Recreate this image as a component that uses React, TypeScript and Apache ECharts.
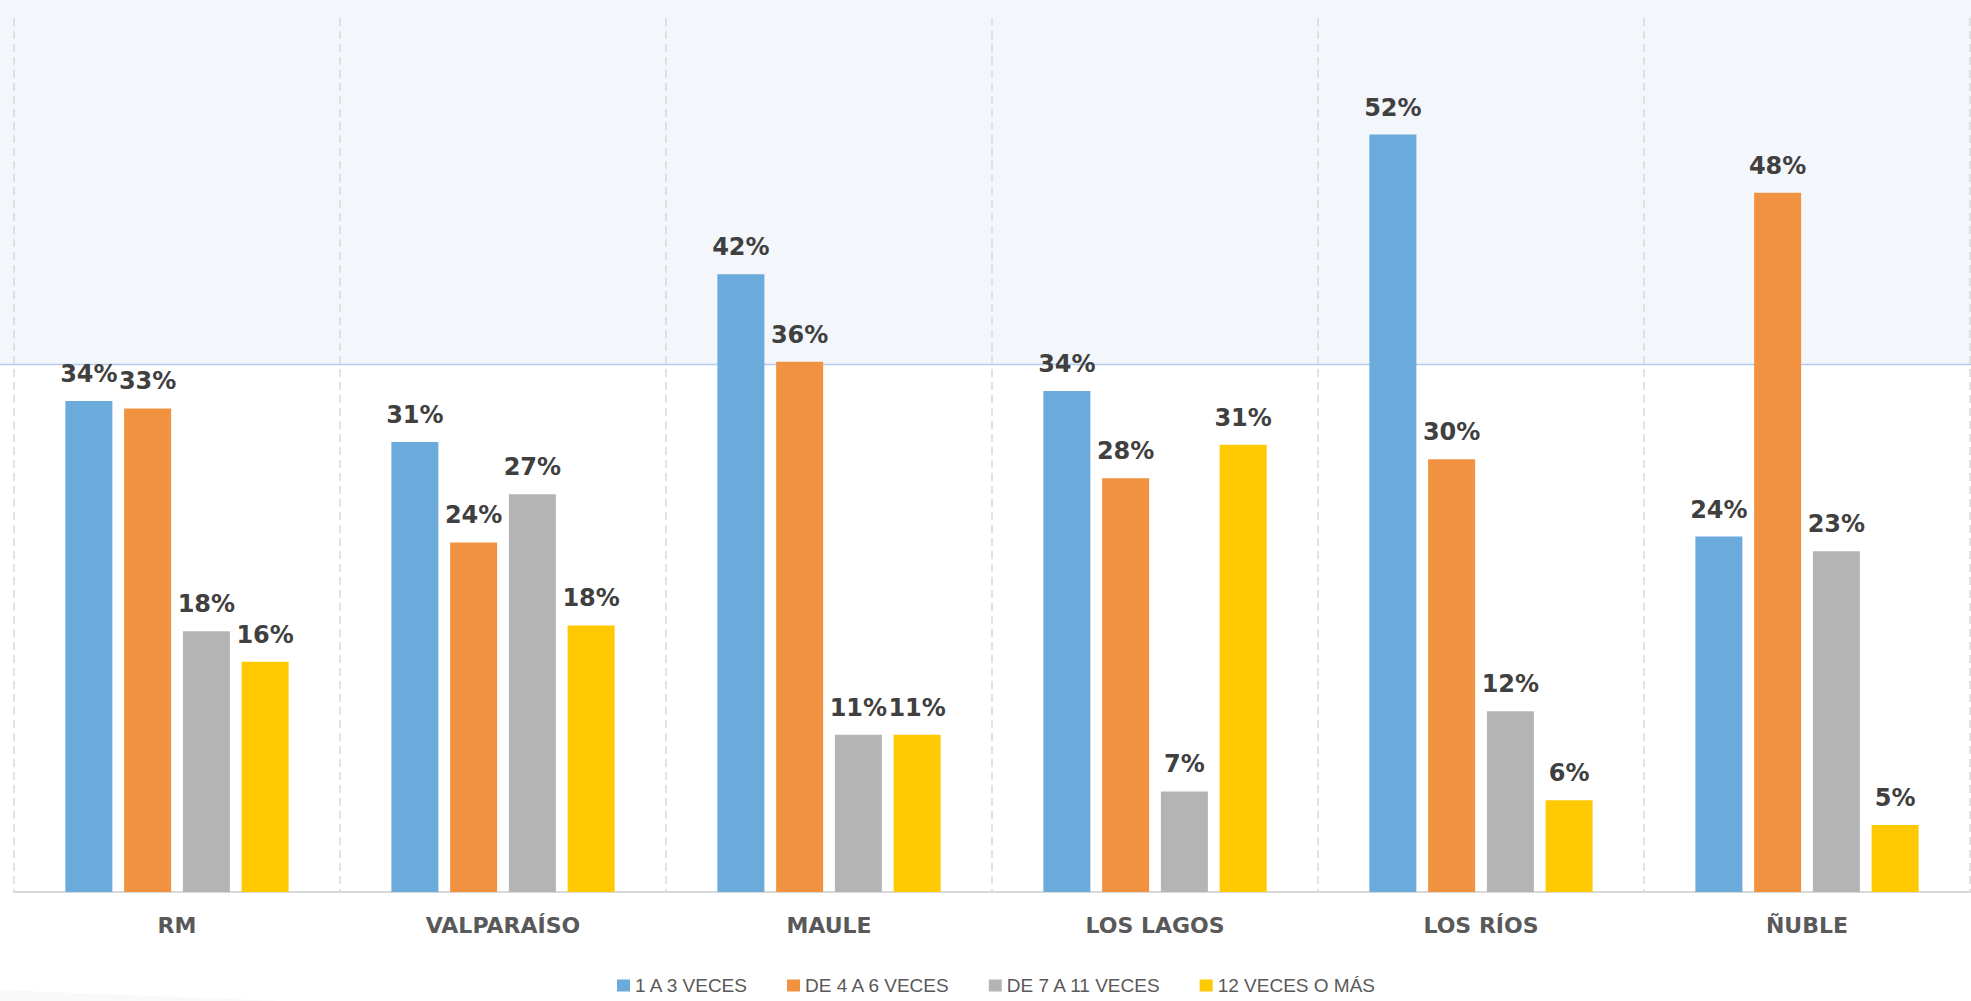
import React, { useEffect, useRef } from "react";
import * as echarts from "echarts";

const categories = ["RM", "VALPARAÍSO", "MAULE", "LOS LAGOS", "LOS RÍOS", "ÑUBLE"];
const seriesNames = ["1 A 3 VECES", "DE 4 A 6 VECES", "DE 7 A 11 VECES", "12 VECES O MÁS"];
const veces1a3 = [33.7, 30.9, 42.4, 34.4, 52.0, 24.4];
const veces4a6 = [33.2, 24.0, 36.4, 28.4, 29.7, 48.0];
const veces7a11 = [17.9, 27.3, 10.8, 6.9, 12.4, 23.4];
const veces12mas = [15.8, 18.3, 10.8, 30.7, 6.3, 4.6];
const seriesData = [veces1a3, veces4a6, veces7a11, veces12mas];
const colors = ["#6aabdc", "#f19241", "#b4b4b4", "#ffc901"];

export default function App() {
  const ref = useRef<HTMLDivElement>(null);
  useEffect(() => {
    document.body.style.margin = "0";
    if (!ref.current) return;
    const chart = echarts.init(ref.current, null, { renderer: "svg" });
    chart.setOption({
      animation: false,
      backgroundColor: "#ffffff",
      graphic: [
        {
          type: "rect",
          z: -100,
          shape: { x: 0, y: 0, width: 1971, height: 364 },
          style: { fill: "#f3f6fa" },
        },
        {
          type: "line",
          z: -99,
          shape: { x1: 0, y1: 364.5, x2: 1971, y2: 364.5 },
          style: { stroke: "#b3c9ee", lineWidth: 1.5 },
        },
        {
          type: "polygon",
          z: -100,
          shape: { points: [[0, 990], [280, 1001], [0, 1001]] },
          style: { fill: "#f9f9f9" },
        },
      ],
      legend: {
        data: seriesNames,
        left: 612,
        top: 971,
        itemWidth: 13,
        itemHeight: 12,
        itemGap: 38,
        icon: "rect",
        textStyle: { fontFamily: "Liberation Sans", fontSize: 19, color: "#595959" },
      },
      grid: { left: 14, right: 1, top: 18, bottom: 109, containLabel: false },
      xAxis: {
        type: "category",
        data: categories,
        axisTick: { show: false },
        axisLine: { show: true, lineStyle: { color: "#d9d9d9", width: 2 } },
        axisLabel: {
          margin: 22,
          fontFamily: "DejaVu Sans",
          fontWeight: "bold",
          fontSize: 22,
          color: "#595959",
        },
        splitLine: {
          show: true,
          lineStyle: { color: "#d9d9d9", width: 1.5, type: [8, 5] },
        },
      },
      yAxis: {
        type: "value",
        min: 0,
        max: 60,
        show: false,
        splitLine: { show: false },
      },
      series: seriesData.map((d, i) => ({
        name: seriesNames[i],
        type: "bar",
        data: d,
        barWidth: 47,
        barGap: "25%",
        itemStyle: { color: colors[i] },
        label: {
          show: true,
          position: "top",
          distance: 15,
          fontFamily: "DejaVu Sans",
          fontWeight: "bold",
          fontSize: 24,
          color: "#404040",
          formatter: (p: any) => Math.round(p.value) + "%",
        },
      })),
    });
    return () => chart.dispose();
  }, []);
  return <div ref={ref} style={{ width: 1971, height: 1001 }} />;
}
